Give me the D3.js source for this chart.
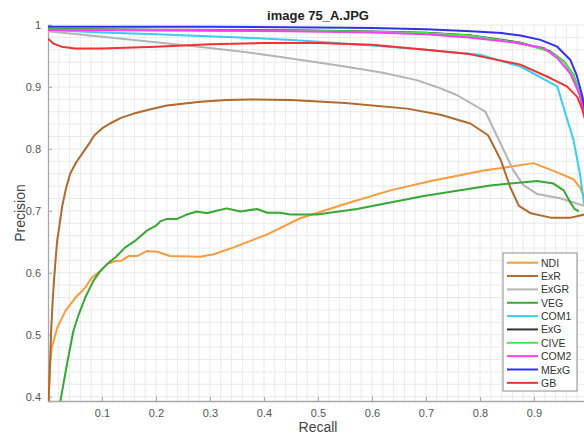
<!DOCTYPE html>
<html>
<head>
<meta charset="utf-8">
<script src="https://cdnjs.cloudflare.com/ajax/libs/d3/7.8.5/d3.min.js"></script>
<style>
    body { margin: 0; background: #fff; }
    svg { display: block; font-family: "Liberation Sans", Arial, sans-serif; }
</style>
</head>
<body>
<script>
// [recall, precision] pairs
const NDI = [[0.001,0.393],[0.004,0.452],[0.007,0.479],[0.017,0.511],[0.032,0.538],[0.051,0.560],[0.069,0.576],[0.081,0.592],[0.097,0.603],[0.109,0.614],[0.125,0.619],[0.137,0.620],[0.149,0.627],[0.165,0.627],[0.183,0.635],[0.202,0.634],[0.226,0.627],[0.282,0.626],[0.307,0.630],[0.344,0.641],[0.406,0.662],[0.467,0.688],[0.55,0.711],[0.634,0.733],[0.709,0.748],[0.807,0.765],[0.899,0.777],[0.943,0.762],[0.973,0.751],[0.985,0.738],[0.993,0.722]];
const ExR = [[0.001,0.393],[0.004,0.46],[0.006,0.51],[0.009,0.56],[0.013,0.61],[0.017,0.652],[0.021,0.675],[0.026,0.706],[0.033,0.735],[0.041,0.76],[0.052,0.778],[0.063,0.792],[0.078,0.811],[0.086,0.822],[0.1,0.833],[0.115,0.841],[0.135,0.85],[0.159,0.857],[0.19,0.864],[0.22,0.870],[0.282,0.876],[0.33,0.879],[0.375,0.8797],[0.45,0.879],[0.55,0.874],[0.665,0.865],[0.727,0.855],[0.782,0.841],[0.815,0.822],[0.838,0.783],[0.856,0.738],[0.872,0.708],[0.894,0.696],[0.931,0.689],[0.968,0.689],[0.993,0.694]];
const ExGR = [[0,0.99],[0.1,0.981],[0.2,0.972],[0.3,0.963],[0.36,0.957],[0.45,0.946],[0.55,0.933],[0.62,0.923],[0.683,0.911],[0.72,0.9],[0.757,0.887],[0.81,0.86],[0.84,0.805],[0.862,0.765],[0.88,0.742],[0.906,0.727],[0.95,0.72],[0.993,0.708]];
const VEG = [[0.023,0.393],[0.035,0.452],[0.047,0.506],[0.057,0.533],[0.069,0.56],[0.084,0.587],[0.097,0.603],[0.112,0.616],[0.125,0.625],[0.143,0.641],[0.162,0.652],[0.183,0.668],[0.2,0.676],[0.208,0.683],[0.22,0.687],[0.239,0.687],[0.257,0.694],[0.276,0.699],[0.294,0.696],[0.312,0.700],[0.331,0.704],[0.356,0.699],[0.387,0.703],[0.406,0.697],[0.43,0.697],[0.449,0.694],[0.498,0.694],[0.572,0.703],[0.696,0.724],[0.819,0.741],[0.906,0.748],[0.936,0.744],[0.955,0.733],[0.967,0.714],[0.975,0.703],[0.983,0.699]];
const COM1 = [[0,0.992],[0.1,0.988],[0.2,0.985],[0.356,0.980],[0.467,0.975],[0.6,0.967],[0.69,0.961],[0.8,0.952],[0.875,0.933],[0.943,0.901],[0.961,0.849],[0.973,0.815],[0.985,0.76],[0.993,0.71]];
const ExG = [[0,0.9935],[0.2,0.9925],[0.45,0.9915],[0.6,0.9895],[0.7,0.9875],[0.78,0.9835],[0.875,0.9715],[0.93,0.9575],[0.955,0.9415],[0.973,0.9195],[0.985,0.8875],[0.995,0.8505],[1.0,0.8205]];
const CIVE = [[0,0.993],[0.2,0.992],[0.45,0.991],[0.6,0.989],[0.7,0.987],[0.78,0.983],[0.875,0.971],[0.93,0.957],[0.955,0.941],[0.973,0.919],[0.985,0.887],[0.995,0.85],[1.0,0.82]];
const COM2 = [[0,0.992],[0.2,0.991],[0.45,0.990],[0.6,0.988],[0.7,0.985],[0.78,0.98],[0.86,0.972],[0.918,0.963],[0.945,0.945],[0.967,0.922],[0.985,0.887],[0.995,0.85],[1.0,0.82]];
const MExG = [[0,0.997],[0.3,0.997],[0.5,0.996],[0.6,0.995],[0.7,0.993],[0.783,0.99],[0.84,0.987],[0.875,0.983],[0.912,0.976],[0.943,0.965],[0.967,0.944],[0.979,0.919],[0.989,0.887],[0.995,0.86],[1.0,0.83]];
const GB = [[0,0.978],[0.01,0.97],[0.025,0.965],[0.05,0.962],[0.1,0.962],[0.2,0.965],[0.3,0.969],[0.4,0.971],[0.5,0.971],[0.6,0.968],[0.69,0.961],[0.78,0.953],[0.875,0.936],[0.931,0.914],[0.961,0.901],[0.98,0.884],[0.989,0.865],[1.0,0.83]];

const seriesNames = ["NDI", "ExR", "ExGR", "VEG", "COM1", "ExG", "CIVE", "COM2", "MExG", "GB"];
const seriesData = [NDI, ExR, ExGR, VEG, COM1, ExG, CIVE, COM2, MExG, GB];
const seriesColors = ["#f89b3c", "#b0692e", "#b4b4b4", "#36a833", "#38cdf5", "#333333", "#40ee40", "#f640f6", "#3030f0", "#f53030"];

const xTicks = [0.1, 0.2, 0.3, 0.4, 0.5, 0.6, 0.7, 0.8, 0.9];
const yTicks = [0.4, 0.5, 0.6, 0.7, 0.8, 0.9, 1];

function init() {
    "use strict";

    const w = 584;
    const h = 438;
    const left = 48;
    const right = 588;
    const top = 25;
    const bottom = 401;

    const svg = d3.select('body')
    .append('svg')
        .attr("width", w)
        .attr("height", h);

    const xScale = d3.scaleLinear().domain([0, 1]).range([left, right]);
    const yScale = d3.scaleLinear().domain([0.393, 1]).range([bottom, top]);

    // fine grid, every 0.02
    const grid = svg.append('g').attr("stroke", "#e9e9e9").attr("stroke-width", 1);
    grid.selectAll('line.gx')
    .data(d3.range(1, 50).map(i => i * 0.02))
    .enter()
    .append('line')
        .attr("x1", d => xScale(d)).attr("x2", d => xScale(d))
        .attr("y1", top).attr("y2", bottom);
    grid.selectAll('line.gy')
    .data(d3.range(20, 51).map(i => i * 0.02).filter(v => v >= 0.393))
    .enter()
    .append('line')
        .attr("x1", left).attr("x2", right)
        .attr("y1", d => yScale(d)).attr("y2", d => yScale(d));

    // axes
    const xAxis = d3.axisBottom(xScale).tickValues(xTicks).tickSize(-4).tickPadding(8).tickFormat(d3.format(".1f"));
    const yAxis = d3.axisLeft(yScale).tickValues(yTicks).tickSize(-4).tickPadding(7).tickFormat(d => d === 1 ? "1" : d3.format(".1f")(d));

    const gx = svg.append('g')
        .attr("transform", "translate(0," + bottom + ")")
        .call(xAxis);
    const gy = svg.append('g')
        .attr("transform", "translate(" + left + ",0)")
        .call(yAxis);
    [gx, gy].forEach(g => {
        g.select('.domain').attr("stroke", "#a8a8a8").attr("stroke-width", 1.3);
        g.selectAll('.tick line').attr("stroke", "#a8a8a8");
        g.selectAll('.tick text').attr("fill", "#555").style("font-size", "11px");
    });

    // curves
    svg.append('clipPath').attr("id", "plot")
        .append('rect')
            .attr("x", left).attr("y", top - 5)
            .attr("width", right - left).attr("height", bottom - top + 5);

    const line = d3.line()
        .x(d => xScale(d[0]))
        .y(d => yScale(d[1]));

    svg.append('g')
        .attr("clip-path", "url(#plot)")
    .selectAll('path')
    .data(seriesData)
    .enter()
    .append('path')
        .attr("d", d => line(d))
        .attr("fill", "none")
        .attr("stroke", (d, i) => seriesColors[i])
        .attr("stroke-width", 2)
        .attr("stroke-linejoin", "round");

    // title and axis labels
    svg.append('text')
        .attr("x", (left + right) / 2)
        .attr("y", 20)
        .attr("text-anchor", "middle")
        .style("font-size", "13px")
        .style("font-weight", "bold")
        .attr("fill", "#222")
        .text("image 75_A.JPG");

    svg.append('text')
        .attr("x", (left + right) / 2)
        .attr("y", 432)
        .attr("text-anchor", "middle")
        .style("font-size", "14px")
        .attr("fill", "#444")
        .text("Recall");

    svg.append('text')
        .attr("transform", "translate(25," + ((top + bottom) / 2) + ") rotate(-90)")
        .attr("text-anchor", "middle")
        .style("font-size", "14px")
        .attr("fill", "#444")
        .text("Precision");

    // legend
    const lg = svg.append('g');
    lg.append('rect')
        .attr("x", 503).attr("y", 253)
        .attr("width", 74).attr("height", 138)
        .attr("fill", "#fff")
        .attr("stroke", "#8c8c8c")
        .attr("stroke-width", 1);
    const item = lg.selectAll('g.item')
    .data(seriesNames)
    .enter()
    .append('g')
        .attr("transform", (d, i) => "translate(0," + (262.7 + i * 13.35) + ")");
    item.append('line')
        .attr("x1", 507).attr("x2", 538)
        .attr("stroke", (d, i) => seriesColors[i])
        .attr("stroke-width", 2);
    item.append('text')
        .attr("x", 541)
        .attr("y", 4)
        .style("font-size", "10.5px")
        .attr("fill", "#333")
        .text(d => d);
}

window.onload = init;
</script>
</body>
</html>
